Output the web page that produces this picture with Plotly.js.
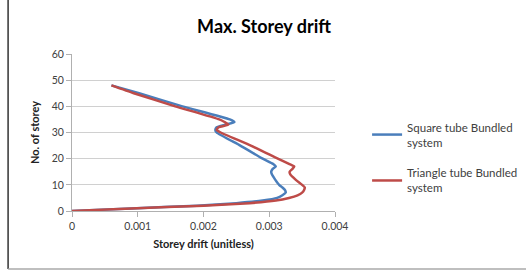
<!DOCTYPE html>
<html>
<head>
<meta charset="utf-8">
<script src="https://cdn.plot.ly/plotly-3.0.1.min.js"></script>
<style>html,body{margin:0;padding:0;background:#fff;}#chart{width:526px;height:270px;}</style>
</head>
<body>
<div id="chart"></div>
<script>
const storeys = [0, 1, 2, 3, 4, 5, 6, 7, 8, 9, 10, 12, 14, 15, 16, 17, 18, 20, 25, 30, 31, 32, 33, 34, 35, 40, 45, 48];
const squareDrift = [0, 0.0009, 0.0019, 0.0025, 0.0029, 0.00312, 0.0032, 0.00325, 0.00324, 0.0032, 0.00315, 0.00309, 0.00304, 0.00303, 0.00305, 0.0031, 0.00306, 0.0029, 0.00256, 0.0022, 0.00218, 0.0022, 0.00233, 0.00247, 0.0024, 0.00168, 0.00102, 0.0006];
const triangleDrift = [0, 0.0009, 0.002, 0.0027, 0.0031, 0.0033, 0.00343, 0.0035, 0.00353, 0.00354, 0.0035, 0.0034, 0.00332, 0.00331, 0.00335, 0.00338, 0.0033, 0.00313, 0.00272, 0.00226, 0.0022, 0.00223, 0.00238, 0.00232, 0.00224, 0.00157, 0.00094, 0.0006];
const seriesNames = ['Square tube Bundled<br>system', 'Triangle tube Bundled<br>system'];
const xTicks = [0, 0.001, 0.002, 0.003, 0.004];
const xTickText = ['0', '0.001', '0.002', '0.003', '0.004'];

const font = 'Lato, "Open Sans", sans-serif';
const traces = [
  {x: squareDrift, y: storeys, name: seriesNames[0], legendgroup: 'a', mode: 'lines', line: {color: '#4a7ebb', width: 2.5, shape: 'spline', smoothing: 0.5}},
  {x: triangleDrift, y: storeys, name: seriesNames[1], legendgroup: 'b', mode: 'lines', line: {color: '#be4b48', width: 2.5, shape: 'spline', smoothing: 0.5}}
];
const layout = {
  width: 526, height: 270,
  margin: {l: 72, r: 191, t: 54, b: 59, autoexpand: false},
  paper_bgcolor: '#fff', plot_bgcolor: '#fff',
  font: {family: font, size: 10, color: '#404040'},
  title: {text: '<b>Max. Storey drift</b>', font: {family: font, size: 18, color: '#000'}, x: 0.502, xanchor: 'center', xref: 'container', y: 0.9, yanchor: 'middle', yref: 'container'},
  xaxis: {
    range: [0, 0.004], tickvals: xTicks, ticktext: xTickText,
    showgrid: false, zeroline: false, showline: true, linecolor: '#b0b0b0', linewidth: 1,
    ticks: 'outside', ticklen: 5, tickcolor: '#b0b0b0',
    tickfont: {family: font, size: 10.5, color: '#404040'},
    title: {text: '<b>Storey drift (unitless)</b>', font: {family: font, size: 11, color: '#222'}, standoff: 9}
  },
  yaxis: {
    range: [0, 60], dtick: 10,
    showgrid: true, gridcolor: '#d0d0d0', gridwidth: 1, zeroline: false,
    showline: true, linecolor: '#b0b0b0', linewidth: 1,
    ticks: 'outside', ticklen: 5, tickcolor: '#b0b0b0',
    tickfont: {family: font, size: 10.5, color: '#404040'},
    title: {text: '<b>No. of storey</b>', font: {family: font, size: 11, color: '#222'}, standoff: 9}
  },
  legend: {x: 1.122, y: 0.34, xanchor: 'left', yanchor: 'middle', traceorder: 'grouped', font: {family: font, size: 11.5, color: '#404040'}, tracegroupgap: 13, itemwidth: 30, bgcolor: 'rgba(0,0,0,0)'},
  shapes: [
    {type: 'line', xref: 'paper', yref: 'paper', x0: -0.243, x1: -0.243, y0: 1.35, y1: -0.37, line: {color: '#333', width: 1.5}},
    {type: 'line', xref: 'paper', yref: 'paper', x0: -0.243, x1: 1.75, y0: -0.37, y1: -0.37, line: {color: '#aaa', width: 1.5}}
  ]
};
Plotly.newPlot('chart', traces, layout, {displayModeBar: false, staticPlot: true});
</script>
</body>
</html>
